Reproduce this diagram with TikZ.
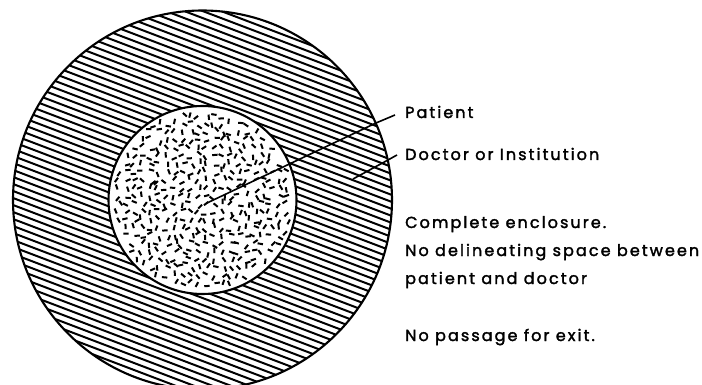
\documentclass[tikz,border=0pt]{standalone}
\usepackage{fontspec}
\setmainfont{Poppins}[LetterSpace=13,FakeBold=2]
\begin{document}
\begin{tikzpicture}[x=1pt,y=-1pt,
  lbl/.style={anchor=base west, inner sep=0pt, font=\fontsize{16}{19}\selectfont},
  ring/.style={line width=2.1pt},
  hatch/.style={line width=2pt},
  speck/.style={line width=2pt},
  leader/.style={line width=1.6pt}]
\useasboundingbox (0,0) rectangle (702,385);
\coordinate (c) at (202.5,200);
% hatched ring
\begin{scope}[even odd rule]
  \clip (c) circle[radius=189.5] (c) circle[radius=94];
  \foreach \k in {-45,...,45} {
    \draw[hatch] ([shift={(-200,\k*7-76)}]c) -- ([shift={(200,\k*7+76)}]c);
  }
\end{scope}
% stippled patient
\pgfmathsetseed{11}
\foreach \x in {-92,-84,...,92} {
  \foreach \y in {-92,-84,...,92} {
    \pgfmathsetmacro\jx{\x+6*rnd-3}
    \pgfmathsetmacro\jy{\y+6*rnd-3}
    \pgfmathsetmacro\ang{180*rnd}
    \pgfmathparse{(\jx/10)^2+(\jy/10)^2<80 ? 1 : 0}
    \ifnum\pgfmathresult=1
      \draw[speck,shift={(c)},shift={(\jx,\jy)},rotate=\ang] (-2.7,0) -- (2.7,0);
    \fi
  }
}
\draw[ring] (c) circle[radius=189.5];
\draw[ring] (c) circle[radius=94];
% labels
\node[lbl] (patient) at (405,118) {Patient};
\node[lbl] (doctor) at (405,160) {Doctor or Institution};
\node[lbl] (enc) at (405,228) {Complete enclosure.};
\node[lbl] (nodel) at (405,256) {No delineating space between};
\node[lbl] (pad) at (405,284) {patient and doctor};
\node[lbl] (exit) at (405,341) {No passage for exit.};
% leaders
\coordinate (pin) at (207,203);
\coordinate (pbend) at (376,123);
\coordinate (din) at (353,179);
\coordinate (dbend) at (388,160);
\draw[leader] (pin) -- (pbend) -- ([xshift=-10pt,yshift=-3pt]patient.west);
\draw[leader] (din) -- (dbend) -- ([xshift=-8pt,yshift=-1pt]doctor.west);
\end{tikzpicture}
\end{document}
